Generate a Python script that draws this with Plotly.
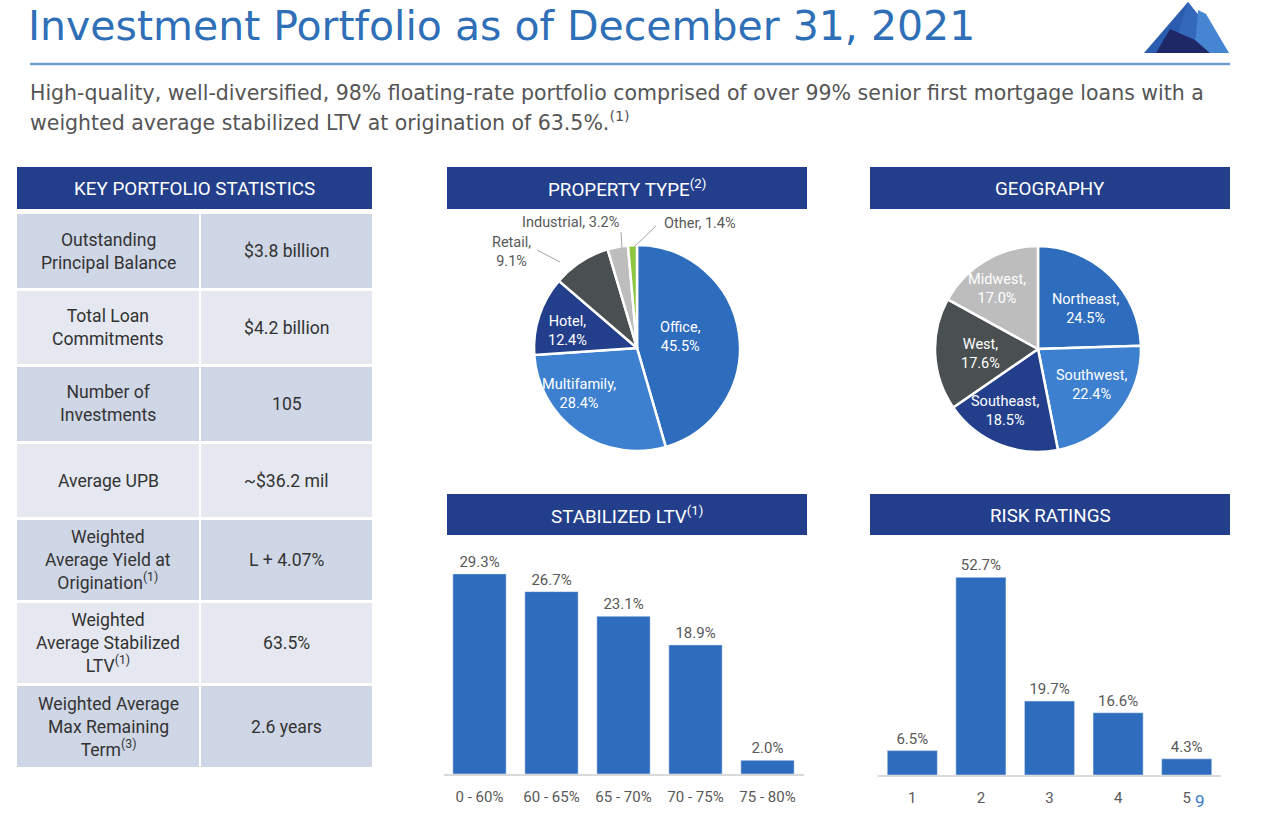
import plotly.graph_objects as go

W, H = 1280, 813
OFF = 0  # body margin is removed by the post_script below

# ---------------- data ----------------
title_text = "Investment Portfolio as of December 31, 2021"
subtitle_lines = [
    "High-quality, well-diversified, 98% floating-rate portfolio comprised of over 99% senior first mortgage loans with a",
    "weighted average stabilized LTV at origination of 63.5%.<sup>(1)</sup>",
]

stat_labels = [
    "Outstanding<br>Principal Balance",
    "Total Loan<br>Commitments",
    "Number of<br>Investments",
    "Average UPB",
    "Weighted<br>Average Yield at<br>Origination<sup>(1)</sup>",
    "Weighted<br>Average Stabilized<br>LTV<sup>(1)</sup>",
    "Weighted Average<br>Max Remaining<br>Term<sup>(3)</sup>",
]
stat_values = ["$3.8 billion", "$4.2 billion", "105", "~$36.2 mil", "L + 4.07%", "63.5%", "2.6 years"]

property_types = ["Office", "Multifamily", "Hotel", "Retail", "Industrial", "Other"]
property_pct = [45.5, 28.4, 12.4, 9.1, 3.2, 1.4]

regions = ["Northeast", "Southwest", "Southeast", "West", "Midwest"]
region_pct = [24.5, 22.4, 18.5, 17.6, 17.0]

ltv_buckets = ["0 - 60%", "60 - 65%", "65 - 70%", "70 - 75%", "75 - 80%"]
ltv_pct = [29.3, 26.7, 23.1, 18.9, 2.0]

risk_ratings = ["1", "2", "3", "4", "5"]
risk_pct = [6.5, 52.7, 19.7, 16.6, 4.3]

# ---------------- style ----------------
NAVY = "#233f8c"
BLUE = "#2e6cbd"
LBLUE = "#3d80cf"
DGRAY = "#4a4f52"
LGRAY = "#bdbdbd"
GREEN = "#8dc641"
TXT = "#333333"
LBL = "#595959"
HFONT = "DejaVu Sans"
BFONT = "Roboto"


def px(x):
    return (x - OFF) / W


def py(y):
    return 1 - (y - OFF) / H


def ann(x, y, text, size, color, family=BFONT, xanchor="center", yanchor="middle", **kw):
    d = dict(x=px(x), y=py(y), xref="paper", yref="paper", text=text, showarrow=False,
             xanchor=xanchor, yanchor=yanchor, font=dict(family=family, size=size, color=color))
    d.update(kw)
    return d


fig = go.Figure()
shapes = []
annotations = []

# ---------------- title / header ----------------
annotations.append(ann(27, 26, title_text, 41, "#2f6fb7", family=HFONT, xanchor="left", borderpad=0))
shapes.append(dict(type="line", xref="paper", yref="paper", x0=px(30), x1=px(1230), y0=py(64), y1=py(64),
                   line=dict(color="#6b9fd9", width=2.5)))
for i, line in enumerate(subtitle_lines):
    annotations.append(ann(28, 93 + 29 * i, line, 20.5, "#555555", family=HFONT, xanchor="left"))


# logo (mountain), pixel paths converted to paper coordinates
def path_to_paper(pts):
    return "M " + " L ".join(f"{px(x):.5f},{py(y):.5f}" for x, y in pts) + " Z"


logo = [
    ([(1144, 53), (1188, 2), (1229, 53)], "#2a5db0"),
    ([(1188, 2), (1200, 18), (1196, 40), (1178, 33)], "#3468bb"),
    ([(1198, 10), (1206, 14), (1229, 53), (1190, 53), (1196, 36)], "#4585d2"),
    ([(1156, 53), (1170, 29), (1195, 40), (1210, 53)], "#1f2867"),
]
for pts, col in logo:
    shapes.append(dict(type="path", xref="paper", yref="paper", path=path_to_paper(pts),
                       fillcolor=col, line=dict(width=0)))


# ---------------- section header bars ----------------
def header(x0, x1, y0, y1, text):
    shapes.append(dict(type="rect", xref="paper", yref="paper", x0=px(x0), x1=px(x1), y0=py(y1), y1=py(y0),
                       fillcolor=NAVY, line=dict(width=0)))
    annotations.append(ann((x0 + x1) / 2, (y0 + y1) / 2 + 1, text, 18.8, "white"))


header(17, 372, 167, 209, "KEY PORTFOLIO STATISTICS")
header(447, 807, 167, 209, "PROPERTY TYPE<sup>(2)</sup>")
header(870, 1230, 167, 209, "GEOGRAPHY")
header(447, 807, 494, 535, "STABILIZED LTV<sup>(1)</sup>")
header(870, 1230, 494, 535, "RISK RATINGS")

# ---------------- key statistics table ----------------
row_edges = [214, 291, 367, 444, 520, 603, 686, 770]
col_edges = [17, 199, 372]
row_fill = ["#cfd6e5", "#e5e8f0"]
for r, (lab, val) in enumerate(zip(stat_labels, stat_values)):
    y0, y1 = row_edges[r], row_edges[r + 1] - 3
    fill = row_fill[r % 2]
    for c, txt in enumerate([lab, val]):
        x0, x1 = col_edges[c], col_edges[c + 1]
        x0 = x0 if c == 0 else x0 + 2
        shapes.append(dict(type="rect", xref="paper", yref="paper", x0=px(x0), x1=px(x1),
                           y0=py(y1), y1=py(y0), fillcolor=fill, line=dict(width=0), layer="below"))
        annotations.append(ann((x0 + x1) / 2, (y0 + y1) / 2, txt, 17.6, TXT, align="center"))

# ---------------- pies ----------------
fig.add_trace(go.Pie(
    labels=property_types, values=property_pct, sort=False, direction="clockwise", rotation=0,
    marker=dict(colors=[BLUE, LBLUE, NAVY, DGRAY, LGRAY, GREEN], line=dict(color="white", width=2.5)),
    textinfo="none", textposition="none", hoverinfo="label+percent", showlegend=False,
    domain=dict(x=[px(534), px(740)], y=[py(451), py(245)]),
))
fig.add_trace(go.Pie(
    labels=regions, values=region_pct, sort=False, direction="clockwise", rotation=0,
    marker=dict(colors=[BLUE, LBLUE, NAVY, DGRAY, LGRAY], line=dict(color="white", width=2.5)),
    textinfo="none", textposition="none", hoverinfo="label+percent", showlegend=False,
    domain=dict(x=[px(935), px(1141)], y=[py(452), py(246)]),
))

# pie labels (text built from the data; placed by position)
prop_label_pos = [(680, 337, "white"), (579, 394, "white"), (567, 331, "white"),
                  (511, 252, LBL), (570, 222, LBL), (700, 223, LBL)]
for name, pct, (x, y, col) in zip(property_types, property_pct, prop_label_pos):
    txt = f"{name},<br>{pct:.1f}%" if name not in ("Industrial", "Other") else f"{name}, {pct:.1f}%"
    annotations.append(ann(x, y, txt, 14.5, col, align="center"))
# leader lines for outside labels
for (x0, y0, x1, y1) in [(537, 250, 560, 262), (621, 232, 622, 248), (656, 226, 634, 247)]:
    shapes.append(dict(type="line", xref="paper", yref="paper", x0=px(x0), y0=py(y0), x1=px(x1), y1=py(y1),
                       line=dict(color="#a6a6a6", width=1)))

geo_label_pos = [(1085, 309), (1091, 385), (1005, 411), (980, 354), (997, 289)]
for name, pct, (x, y) in zip(regions, region_pct, geo_label_pos):
    annotations.append(ann(x, y, f"{name},<br>{pct:.1f}%", 14.5, "white", align="center"))

# ---------------- bars ----------------
fig.add_trace(go.Bar(
    x=ltv_buckets, y=ltv_pct, marker=dict(color=BLUE), width=0.74,
    texttemplate="%{y:.1f}%", textposition="outside", cliponaxis=False,
    textfont=dict(family=BFONT, size=15, color=LBL), showlegend=False,
    xaxis="x", yaxis="y",
))
fig.add_trace(go.Bar(
    x=risk_ratings, y=risk_pct, marker=dict(color=BLUE), width=0.73,
    texttemplate="%{y:.1f}%", textposition="outside", cliponaxis=False,
    textfont=dict(family=BFONT, size=15, color=LBL), showlegend=False,
    xaxis="x2", yaxis="y2",
))

axis_common = dict(showgrid=False, zeroline=False, fixedrange=True)
fig.update_layout(
    xaxis=dict(domain=[px(443.5), px(803.5)], anchor="y", type="category", showline=True,
               linecolor="#d9d9d9", linewidth=1.5, ticks="", ticklabelstandoff=8,
               tickfont=dict(family=BFONT, size=15, color=LBL), **axis_common),
    yaxis=dict(domain=[py(774), py(545)], anchor="x", range=[0, 229 / 6.83], visible=False, **axis_common),
    xaxis2=dict(domain=[px(878), px(1221)], anchor="y2", type="category", showline=True,
                linecolor="#d9d9d9", linewidth=1.5, ticks="", ticklabelstandoff=8,
                tickfont=dict(family=BFONT, size=15, color=LBL), **axis_common),
    yaxis2=dict(domain=[py(775), py(545)], anchor="x2", range=[0, 230 / 3.75], visible=False, **axis_common),
)

# page number
annotations.append(ann(1200, 801, "9", 17, "#3d7cc9"))

fig.update_layout(
    width=W, height=H, margin=dict(l=0, r=0, t=0, b=0),
    paper_bgcolor="white", plot_bgcolor="white",
    shapes=shapes, annotations=annotations, showlegend=False, bargap=0.26,
)

fig.write_html("out.html", config=dict(displayModeBar=False),
               post_script="document.body.style.margin='0px';document.body.style.overflow='hidden';")
